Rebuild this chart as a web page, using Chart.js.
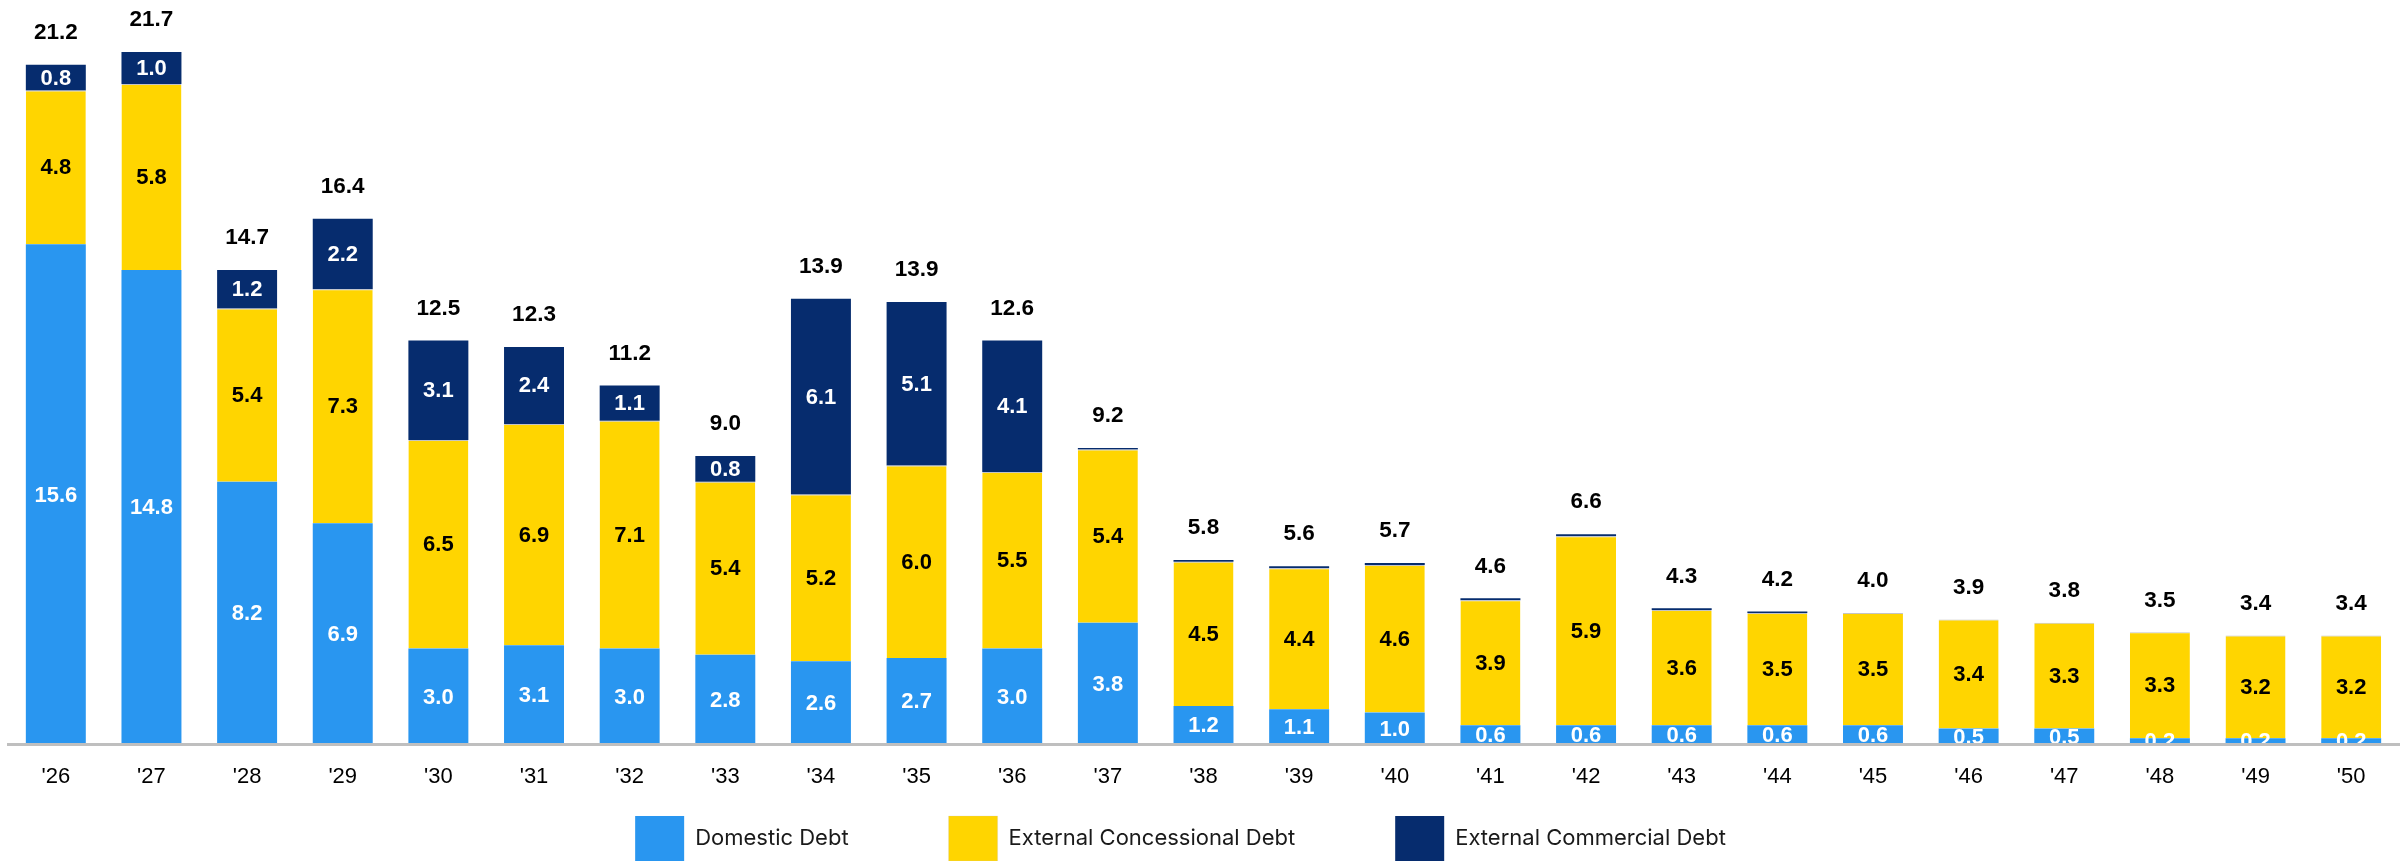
<!DOCTYPE html>
<html>
<head>
<meta charset="utf-8">
<script src="https://cdn.jsdelivr.net/npm/chart.js@4.4.1/dist/chart.umd.min.js"></script>
<style>
  html, body { margin: 0; padding: 0; background: #ffffff; overflow: hidden; }
  #wrap { width: 2407px; height: 861px; position: relative; }
</style>
</head>
<body>
<div id="wrap"><canvas id="debtChart" width="2407" height="861"></canvas></div>
<script>
// Debt service by year, split by debt type
const years = ["'26", "'27", "'28", "'29", "'30", "'31", "'32", "'33", "'34", "'35", "'36", "'37", "'38",
               "'39", "'40", "'41", "'42", "'43", "'44", "'45", "'46", "'47", "'48", "'49", "'50"];

const domestic     = [15.6, 14.8, 8.2, 6.9, 3.0, 3.1, 3.0, 2.8, 2.6, 2.7, 3.0, 3.8, 1.2,
                      1.1, 1.0, 0.6, 0.6, 0.6, 0.6, 0.6, 0.5, 0.5, 0.2, 0.2, 0.2];
const concessional = [4.8, 5.8, 5.4, 7.3, 6.5, 6.9, 7.1, 5.4, 5.2, 6.0, 5.5, 5.4, 4.5,
                      4.4, 4.6, 3.9, 5.9, 3.6, 3.5, 3.5, 3.4, 3.3, 3.3, 3.2, 3.2];
const commercial   = [0.8, 1.0, 1.2, 2.2, 3.1, 2.4, 1.1, 0.8, 6.1, 5.1, 4.1, 0.05, 0.06,
                      0.06, 0.06, 0.06, 0.06, 0.05, 0.05, 0, 0, 0, 0, 0, 0];
const totals       = [21.2, 21.7, 14.7, 16.4, 12.5, 12.3, 11.2, 9.0, 13.9, 13.9, 12.6, 9.2, 5.8,
                      5.6, 5.7, 4.6, 6.6, 4.3, 4.2, 4.0, 3.9, 3.8, 3.5, 3.4, 3.4];

const seriesNames = ['Domestic Debt', 'External Concessional Debt', 'External Commercial Debt'];

const BLUE = '#2996f0';
const YELLOW = '#ffd500';
const NAVY = '#062c6e';

// Segment values inside each bar, plus the stack total above it
const valueLabels = {
  id: 'valueLabels',
  afterDatasetsDraw(chart) {
    const { ctx } = chart;
    ctx.save();
    ctx.textAlign = 'center';
    ctx.textBaseline = 'middle';
    ctx.font = 'bold 22px "Liberation Sans", Arial, sans-serif';
    chart.data.datasets.forEach((ds, di) => {
      const meta = chart.getDatasetMeta(di);
      meta.data.forEach((bar, i) => {
        const v = ds.data[i];
        if (v < 0.15) return;
        ctx.fillStyle = ds.labelColor;
        ctx.fillText(v.toFixed(1), bar.x, (bar.y + bar.base) / 2 + 1);
      });
    });
    const yScale = chart.scales.y;
    const baseMeta = chart.getDatasetMeta(0);
    ctx.font = 'bold 22.5px "Liberation Sans", Arial, sans-serif';
    ctx.fillStyle = '#000000';
    totals.forEach((t, i) => {
      const stackTop = domestic[i] + concessional[i] + commercial[i];
      ctx.fillText(t.toFixed(1), baseMeta.data[i].x, yScale.getPixelForValue(stackTop) - 32);
    });
    ctx.restore();
  }
};

// Keep the legend row pinned to the bottom edge while using wide item spacing
const legendPlacement = {
  id: 'legendPlacement',
  afterLayout(chart) {
    const lg = chart.legend;
    const opts = lg.options.labels;
    lg.top = chart.height - opts.boxHeight - opts.padding;
    lg.bottom = chart.height;
    lg.height = lg.bottom - lg.top;
    lg.left -= 23;
    lg.right -= 23;
  }
};

new Chart(document.getElementById('debtChart'), {
  type: 'bar',
  data: {
    labels: years,
    datasets: [
      { label: seriesNames[0], data: domestic, backgroundColor: BLUE, borderWidth: 0, labelColor: '#ffffff' },
      { label: seriesNames[1], data: concessional, backgroundColor: YELLOW, labelColor: '#000000',
        borderColor: '#c4c4c4', borderWidth: { top: 1, left: 0, right: 0, bottom: 0 }, borderSkipped: false },
      { label: seriesNames[2], data: commercial, backgroundColor: NAVY, borderWidth: 0, labelColor: '#ffffff' }
    ]
  },
  options: {
    responsive: false,
    animation: false,
    devicePixelRatio: 1,
    layout: { padding: { top: 7, left: 8, right: 8, bottom: 0 } },
    datasets: {
      bar: { categoryPercentage: 1.0, barPercentage: 0.627 }
    },
    scales: {
      x: {
        stacked: true,
        grid: { display: false, drawTicks: false },
        border: { display: true, color: '#bfbfbf', width: 3, z: 1 },
        ticks: {
          color: '#000000',
          font: { family: '"Liberation Sans", Arial, sans-serif', size: 22 },
          padding: 19,
          maxRotation: 0,
          autoSkip: false
        }
      },
      y: {
        stacked: true,
        display: false,
        min: 0,
        max: 23
      }
    },
    plugins: {
      tooltip: { enabled: false },
      legend: {
        position: 'bottom',
        maxHeight: 52,
        labels: {
          boxWidth: 49,
          boxHeight: 45,
          padding: 100,
          color: '#1a1a1a',
          font: { family: 'Inter, "Noto Sans", sans-serif', size: 22 }
        }
      }
    }
  },
  plugins: [valueLabels, legendPlacement]
});
</script>
</body>
</html>
